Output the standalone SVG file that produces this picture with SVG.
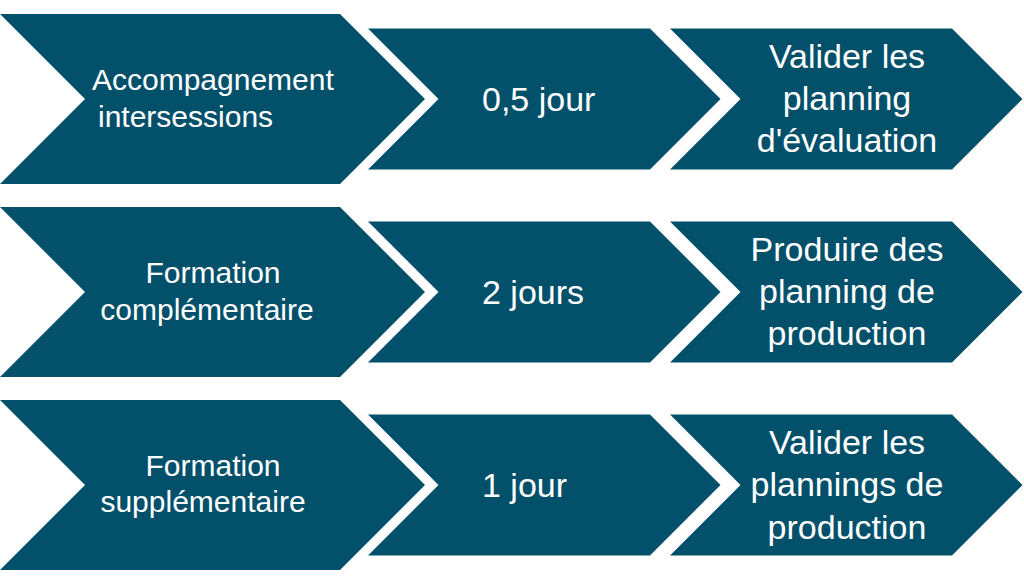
<svg xmlns="http://www.w3.org/2000/svg" width="1024" height="584" viewBox="0 0 1024 584">
<style>
.ch{fill:#03506B}
.t{font-family:"Liberation Sans",Arial,sans-serif;fill:#ffffff}
.l{font-size:30px}
.m{font-size:34px}
.r{font-size:34px;text-anchor:middle}
</style>
<rect width="1024" height="584" fill="#ffffff"/>
<g id="row1-a"><path class="ch" d="M0,14 L340,14 L425,99 L340,184 L0,184 L85,99 Z"/>
<text class="t l" x="92" y="90">Accompagnement</text><text class="t l" x="98" y="127">intersessions</text></g>
<g id="row1-b"><path class="ch" d="M368,28.5 L650,28.5 L720.5,99 L650,169.5 L368,169.5 L438.5,99 Z"/>
<text class="t m" x="482" y="111">0,5 jour</text></g>
<g id="row1-c"><path class="ch" d="M670,28.5 L952,28.5 L1022.5,99 L952,169.5 L670,169.5 L740.5,99 Z"/>
<text class="t r" x="847" y="68">Valider les</text><text class="t r" x="847" y="110">planning</text><text class="t r" x="847" y="152">d'évaluation</text></g>
<g id="row2-a"><path class="ch" d="M0,207 L340,207 L425,292 L340,377 L0,377 L85,292 Z"/>
<text class="t l" x="213" y="283" text-anchor="middle">Formation</text><text class="t l" x="207" y="320" text-anchor="middle">complémentaire</text></g>
<g id="row2-b"><path class="ch" d="M368,221.5 L650,221.5 L720.5,292 L650,362.5 L368,362.5 L438.5,292 Z"/>
<text class="t m" x="482" y="304">2 jours</text></g>
<g id="row2-c"><path class="ch" d="M670,221.5 L952,221.5 L1022.5,292 L952,362.5 L670,362.5 L740.5,292 Z"/>
<text class="t r" x="847" y="261">Produire des</text><text class="t r" x="847" y="303">planning de</text><text class="t r" x="847" y="345">production</text></g>
<g id="row3-a"><path class="ch" d="M0,400 L340,400 L425,485 L340,570 L0,570 L85,485 Z"/>
<text class="t l" x="213" y="476" text-anchor="middle">Formation</text><text class="t l" x="203" y="512" text-anchor="middle">supplémentaire</text></g>
<g id="row3-b"><path class="ch" d="M368,414.5 L650,414.5 L720.5,485 L650,555.5 L368,555.5 L438.5,485 Z"/>
<text class="t m" x="482" y="497">1 jour</text></g>
<g id="row3-c"><path class="ch" d="M670,414.5 L952,414.5 L1022.5,485 L952,555.5 L670,555.5 L740.5,485 Z"/>
<text class="t r" x="847" y="454">Valider les</text><text class="t r" x="847" y="496">plannings de</text><text class="t r" x="847" y="539">production</text></g>
</svg>
